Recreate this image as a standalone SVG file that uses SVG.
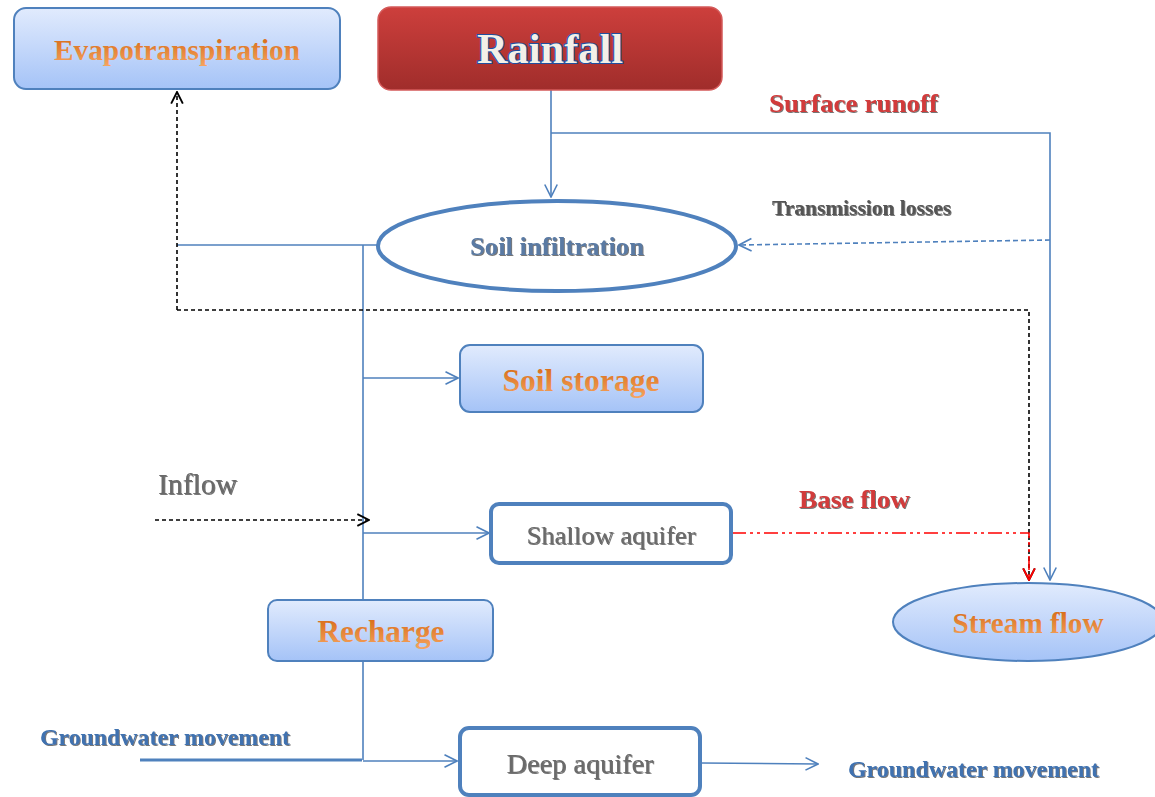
<svg xmlns="http://www.w3.org/2000/svg" width="1155" height="797" viewBox="0 0 1155 797">
<defs>
<linearGradient id="blueG" x1="0" y1="0" x2="0" y2="1">
<stop offset="0" stop-color="#e1ebfd"/><stop offset="1" stop-color="#a5c3f7"/>
</linearGradient>
<linearGradient id="redG" x1="0" y1="0" x2="0" y2="1">
<stop offset="0" stop-color="#cd3f3c"/><stop offset="1" stop-color="#a02d2b"/>
</linearGradient>
<linearGradient id="orG" x1="0" y1="0" x2="0" y2="1">
<stop offset="0" stop-color="#d4650f"/><stop offset="1" stop-color="#f6a45f"/>
</linearGradient>
<filter id="sh" x="-10%" y="-30%" width="120%" height="160%">
<feDropShadow dx="1" dy="1" stdDeviation="0.6" flood-color="#555" flood-opacity="0.8"/>
</filter>
<marker id="ab" viewBox="0 0 12 12" refX="11" refY="6" markerWidth="15" markerHeight="15" markerUnits="userSpaceOnUse" orient="auto">
<path d="M1,1 L11,6 L1,11" fill="none" stroke="#4f81bd" stroke-width="1.3"/>
</marker>
<marker id="ak" viewBox="0 0 12 12" refX="11" refY="6" markerWidth="14" markerHeight="14" markerUnits="userSpaceOnUse" orient="auto">
<path d="M1,1 L11,6 L1,11" fill="none" stroke="#000" stroke-width="1.6"/>
</marker>
<marker id="ar" viewBox="0 0 12 12" refX="11" refY="6" markerWidth="14" markerHeight="14" markerUnits="userSpaceOnUse" orient="auto">
<path d="M1,1 L11,6 L1,11" fill="none" stroke="#f00" stroke-width="1.6"/>
</marker>
</defs>
<style>
.bx{fill:url(#blueG);stroke:#4f81bd;stroke-width:2}
.th{fill:#fff;stroke:#4f81bd;stroke-width:4}
.t{font-family:"Liberation Serif",serif;font-weight:bold;text-anchor:middle}
.s{text-anchor:start}
.or{fill:url(#orG)}
.gy{fill:#6b6b6b;font-weight:normal}
.bg{fill:#3f72b0;filter:url(#sh)}
.rd{fill:#d23a3a;filter:url(#sh)}
.ln{fill:none;stroke:#4f81bd;stroke-width:1.6}
.dk{fill:none;stroke:#000;stroke-width:1.6;stroke-dasharray:4 3}
</style>

<g id="connectors">
<path class="ln" d="M551,90 V197" marker-end="url(#ab)"/>
<path class="ln" d="M551,133 H1050 V580" marker-end="url(#ab)"/>
<path d="M1050,240 L739,245" fill="none" stroke="#4f81bd" stroke-width="1.6" stroke-dasharray="5 3" marker-end="url(#ab)"/>
<path class="ln" d="M378,245 H177"/>
<path class="ln" d="M363,245 V760"/>
<path class="dk" d="M177,310 V92" marker-end="url(#ak)"/>
<path class="dk" d="M177,310 H1029 V580" marker-end="url(#ak)"/>
<path d="M732,533 H1029 V580" fill="none" stroke="#f00" stroke-width="1.6" stroke-dasharray="14 4 3 4 3 4" marker-end="url(#ar)"/>
<path class="ln" d="M363,378 H458" marker-end="url(#ab)"/>
<path class="dk" d="M155,520 H369" marker-end="url(#ak)"/>
<path class="ln" d="M363,533 H489" marker-end="url(#ab)"/>
<path d="M140,760 H362" fill="none" stroke="#4f81bd" stroke-width="3"/>
<path class="ln" d="M363,761 H457" marker-end="url(#ab)"/>
<path class="ln" d="M701,763 L818,764" marker-end="url(#ab)"/>
</g>

<g id="evapotranspiration">
<rect class="bx" x="14" y="8" width="326" height="81" rx="12"/>
<text class="t or" x="177" y="60" font-size="29" textLength="246" lengthAdjust="spacingAndGlyphs">Evapotranspiration</text>
</g>
<g id="rainfall">
<rect x="378" y="7" width="344" height="83" rx="13" fill="url(#redG)" stroke="#d45a5a" stroke-width="1.5"/>
<text class="t" x="550" y="63" font-size="42" fill="#f3f0e8" stroke="#1f4f9e" stroke-width="2.2" paint-order="stroke" textLength="146" lengthAdjust="spacingAndGlyphs">Rainfall</text>
</g>
<g id="surface-runoff">
<text class="t s rd" x="769" y="112" font-size="26" textLength="169" lengthAdjust="spacingAndGlyphs">Surface runoff</text>
</g>
<g id="transmission-losses">
<text class="t s" x="772" y="215" font-size="21" fill="#555" filter="url(#sh)" textLength="179" lengthAdjust="spacingAndGlyphs">Transmission losses</text>
</g>
<g id="soil-infiltration">
<ellipse cx="557" cy="246" rx="179" ry="45" fill="#fff" stroke="#4f81bd" stroke-width="4"/>
<text class="t" x="557" y="255" font-size="26" fill="#5a7aa3" filter="url(#sh)" textLength="174" lengthAdjust="spacingAndGlyphs">Soil infiltration</text>
</g>
<g id="soil-storage">
<rect class="bx" x="460" y="345" width="243" height="67" rx="10"/>
<text class="t or" x="581" y="391" font-size="31" textLength="157" lengthAdjust="spacingAndGlyphs">Soil storage</text>
</g>
<g id="inflow">
<text class="t s gy" x="158" y="494" font-size="29" filter="url(#sh)" textLength="79" lengthAdjust="spacingAndGlyphs">Inflow</text>
</g>
<g id="shallow-aquifer">
<rect class="th" x="491" y="504" width="240" height="59" rx="8"/>
<text class="t gy" x="611" y="544" font-size="26" filter="url(#sh)" textLength="169" lengthAdjust="spacingAndGlyphs">Shallow aquifer</text>
</g>
<g id="base-flow">
<text class="t s rd" x="799" y="508" font-size="26" textLength="111" lengthAdjust="spacingAndGlyphs">Base flow</text>
</g>
<g id="stream-flow">
<ellipse cx="1028" cy="622" rx="135" ry="39" fill="url(#blueG)" stroke="#4f81bd" stroke-width="2"/>
<text class="t or" x="1028" y="633" font-size="29" textLength="151" lengthAdjust="spacingAndGlyphs">Stream flow</text>
</g>
<g id="recharge">
<rect class="bx" x="268" y="600" width="225" height="61" rx="9"/>
<text class="t or" x="381" y="642" font-size="31" textLength="127" lengthAdjust="spacingAndGlyphs">Recharge</text>
</g>
<g id="groundwater-in">
<text class="t s bg" x="40" y="745" font-size="23.5" textLength="250" lengthAdjust="spacingAndGlyphs">Groundwater movement</text>
</g>
<g id="deep-aquifer">
<rect class="th" x="460" y="728" width="240" height="67" rx="9"/>
<text class="t gy" x="580" y="773" font-size="27" filter="url(#sh)" textLength="147" lengthAdjust="spacingAndGlyphs">Deep aquifer</text>
</g>
<g id="groundwater-out">
<text class="t s bg" x="848" y="777" font-size="23.5" textLength="251" lengthAdjust="spacingAndGlyphs">Groundwater movement</text>
</g>
</svg>
